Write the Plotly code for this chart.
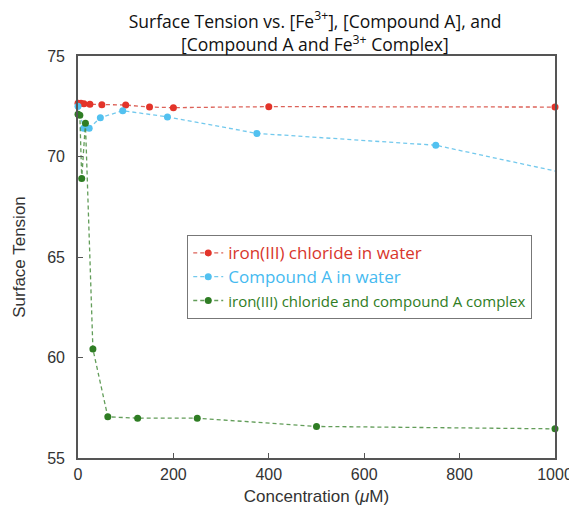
import plotly.graph_objects as go

# Data (Concentration in µM, Surface tension)
iron_x = [0, 6.25, 12.5, 25, 50, 100, 150, 200, 400, 1000]
iron_y = [72.65, 72.65, 72.62, 72.6, 72.58, 72.56, 72.46, 72.43, 72.48, 72.46]

compA_x = [0, 11.72, 23.44, 46.88, 93.75, 187.5, 375, 750, 1500]
compA_y = [72.5, 71.4, 71.4, 71.93, 72.28, 71.97, 71.15, 70.56, 66.72]

complex_x = [0, 3.9, 7.8, 15.6, 31.25, 62.5, 125, 250, 500, 1000]
complex_y = [72.1, 72.05, 68.9, 71.65, 60.42, 57.05, 56.98, 56.98, 56.57, 56.45]

x_ticks = [0, 200, 400, 600, 800, 1000]
y_ticks = [55, 60, 65, 70, 75]

names = [
    "<span style='font-size:17px'>iron(III) chloride in water</span>",
    "<span style='font-size:17px'>Compound A in water</span>",
    "<span style='font-size:15px'>iron(III) chloride and compound A complex</span>",
]

series = [
    (iron_x, iron_y, "#e3342a", "rgba(214,70,60,0.85)", "#d8362c"),
    (compA_x, compA_y, "#52c1f0", "rgba(100,195,235,0.9)", "#45baf0"),
    (complex_x, complex_y, "#2f7d24", "rgba(70,140,60,0.85)", "#2f7d24"),
]

fig = go.Figure()
for (xs, ys, mc, lc, tc), nm in zip(series, names):
    fig.add_trace(go.Scatter(
        x=xs, y=ys, mode="lines+markers",
        name=f"<span style='color:{tc}'>{nm}</span>",
        line=dict(color=lc, width=1.3, dash="4px,3px"),
        marker=dict(color=mc, size=7),
        cliponaxis=False,
    ))

axis_common = dict(
    showline=True, linecolor="#555", linewidth=1.6, mirror=True,
    ticks="inside", ticklen=5, tickcolor="#555", tickwidth=1.2,
    showgrid=False, zeroline=False, automargin=False,
    tickfont=dict(family="Liberation Sans, Arial", size=16, color="#333"),
)

W, H = 569, 506  # page body has an 8px margin
fig.update_layout(
    width=W, height=H,
    margin=dict(l=69.5, r=21.5, t=48, b=56),
    paper_bgcolor="white", plot_bgcolor="white",
    title=dict(
        text="Surface Tension vs. [Fe<sup>3+</sup>], [Compound A], and",
        x=0.497, xanchor="center", xref="paper",
        y=1 - 13.5 / H, yanchor="middle", yref="container",
        automargin=False,
        font=dict(family="Open Sans", size=17.5, color="#111"),
    ),
    annotations=[dict(
        text="[Compound A and Fe<sup>3+</sup> Complex]",
        xref="paper", yref="paper", x=0.497, xanchor="center",
        y=(450 - 36) / 402, yanchor="middle", showarrow=False,
        font=dict(family="Open Sans", size=17.5, color="#111"),
    )],
    xaxis=dict(range=[0, 1000], tickvals=x_ticks, ticklabelstandoff=1,
               title=dict(text="Concentration (<i>μ</i>M)", standoff=8,
                          font=dict(family="Liberation Sans, Arial", size=17, color="#333")),
               **axis_common),
    yaxis=dict(range=[55, 75], tickvals=y_ticks, ticklabelstandoff=8,
               title=dict(text="Surface Tension", standoff=17,
                          font=dict(family="Liberation Sans, Arial", size=17, color="#333")),
               **axis_common),
    legend=dict(
        x=0.229, y=0.5547, xanchor="left", yanchor="top",
        bgcolor="white", bordercolor="#777", borderwidth=1,
        font=dict(family="Open Sans", size=16),
        itemwidth=30, tracegroupgap=0,
    ),
    showlegend=True,
)

fig.write_html("out.html")
